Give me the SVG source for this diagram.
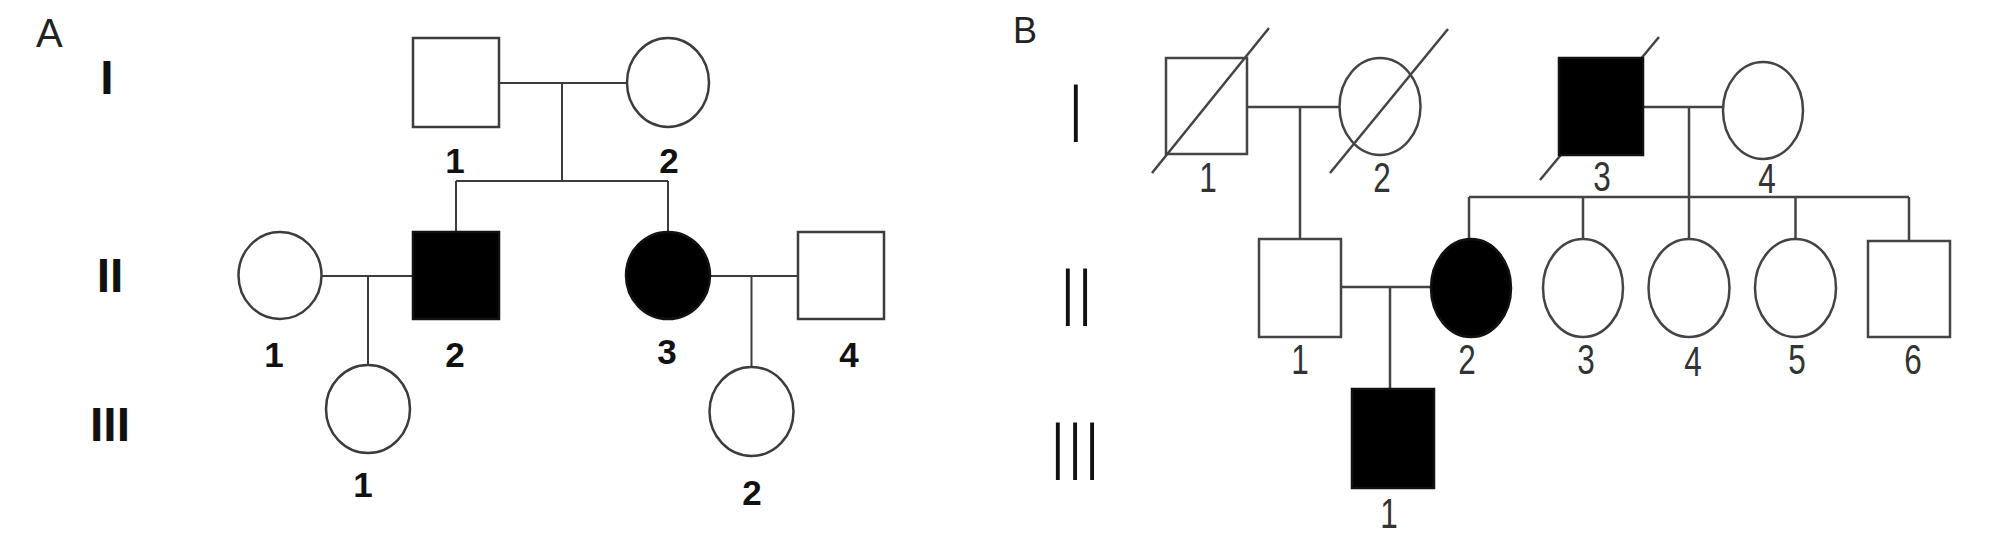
<svg xmlns="http://www.w3.org/2000/svg" width="2008" height="555" viewBox="0 0 2008 555">
<style>
.ln{stroke:#3c3c3c;stroke-width:2;fill:none}
.lnB{stroke:#444;stroke-width:2.5;fill:none}
.sh{stroke:#3c3c3c;stroke-width:2.5;fill:#fff}
.shB{stroke:#444;stroke-width:2.5;fill:#fff}
.aff{fill:#000;stroke:#111;stroke-width:2.5}
.numA{font-family:"Liberation Sans",Arial,sans-serif;font-weight:bold;font-size:35px;fill:#111;text-anchor:middle}
.genA{font-family:"Liberation Sans",Arial,sans-serif;font-weight:bold;font-size:48px;fill:#111;text-anchor:middle}
.numB{font-family:"Liberation Sans",Arial,sans-serif;font-size:42px;fill:#333;text-anchor:middle}
.genB{font-family:"Liberation Sans",Arial,sans-serif;font-size:84px;fill:#111;letter-spacing:11px}
.pan{font-family:"Liberation Sans",Arial,sans-serif;font-size:40px;fill:#222}
</style>
<rect width="2008" height="555" fill="#fff"/>

<!-- Panel A -->
<text class="pan" x="36" y="47">A</text>
<text class="genA" x="107" y="94">I</text>
<text class="genA" x="110" y="292">II</text>
<text class="genA" x="110" y="441">III</text>

<g id="connectorsA">
<line class="ln" x1="499" y1="83" x2="627" y2="83"/>
<line class="ln" x1="562" y1="83" x2="562" y2="181"/>
<line class="ln" x1="456" y1="181" x2="668" y2="181"/>
<line class="ln" x1="456" y1="181" x2="456" y2="232"/>
<line class="ln" x1="668" y1="181" x2="668" y2="232"/>
<line class="ln" x1="321" y1="276" x2="413" y2="276"/>
<line class="ln" x1="368" y1="276" x2="368" y2="365"/>
<line class="ln" x1="710" y1="276" x2="798" y2="276"/>
<line class="ln" x1="751.5" y1="276" x2="751.5" y2="367"/>
</g>

<g id="A-I-1"><rect class="sh" x="413" y="38" width="86" height="89"/><text class="numA" x="455" y="173">1</text></g>
<g id="A-I-2"><ellipse class="sh" cx="668" cy="82.5" rx="41" ry="44.5"/><text class="numA" x="669" y="173">2</text></g>
<g id="A-II-1"><ellipse class="sh" cx="280" cy="275.5" rx="41.5" ry="43.5"/><text class="numA" x="274" y="367">1</text></g>
<g id="A-II-2"><rect class="aff" x="413" y="232" width="86" height="87"/><text class="numA" x="455" y="367">2</text></g>
<g id="A-II-3"><ellipse class="aff" cx="668" cy="275.5" rx="42" ry="43.5"/><text class="numA" x="667" y="364">3</text></g>
<g id="A-II-4"><rect class="sh" x="798" y="232" width="86" height="87"/><text class="numA" x="849" y="367">4</text></g>
<g id="A-III-1"><ellipse class="sh" cx="368" cy="409" rx="42" ry="44"/><text class="numA" x="363" y="497">1</text></g>
<g id="A-III-2"><ellipse class="sh" cx="751.5" cy="411.5" rx="42" ry="44.5"/><text class="numA" x="752" y="505">2</text></g>

<!-- Panel B -->
<text class="pan" x="1013" y="43" style="font-size:36px">B</text>
<text class="genB" transform="translate(1070,142) scale(0.5,1)">I</text>
<text class="genB" transform="translate(1062,326) scale(0.5,1)">II</text>
<text class="genB" transform="translate(1052,480) scale(0.5,1)">III</text>

<g id="connectorsB">
<line class="lnB" x1="1247" y1="107" x2="1340" y2="107"/>
<line class="lnB" x1="1300" y1="107" x2="1300" y2="239"/>
<line class="lnB" x1="1643" y1="107" x2="1723" y2="107"/>
<line class="lnB" x1="1689" y1="107" x2="1689" y2="239"/>
<line class="lnB" x1="1469" y1="197" x2="1909" y2="197"/>
<line class="lnB" x1="1469" y1="197" x2="1469" y2="239"/>
<line class="lnB" x1="1583" y1="197" x2="1583" y2="239"/>
<line class="lnB" x1="1795.5" y1="197" x2="1795.5" y2="239"/>
<line class="lnB" x1="1909" y1="197" x2="1909" y2="241"/>
<line class="lnB" x1="1341" y1="287" x2="1431" y2="287"/>
<line class="lnB" x1="1390" y1="287" x2="1390" y2="389"/>
</g>

<g id="B-I-1"><rect class="shB" x="1166" y="58" width="81" height="96"/><line class="lnB" x1="1152" y1="173" x2="1269" y2="28"/><text class="numB" transform="translate(1208,192) scale(0.75,1)">1</text></g>
<g id="B-I-2"><ellipse class="shB" cx="1380" cy="106.5" rx="40.5" ry="48.5"/><line class="lnB" x1="1330" y1="173" x2="1448" y2="29"/><text class="numB" transform="translate(1382,192) scale(0.75,1)">2</text></g>
<g id="B-I-3"><line class="lnB" x1="1540" y1="180" x2="1659" y2="37"/><rect class="aff" x="1559" y="58" width="84" height="97"/><text class="numB" transform="translate(1602,191) scale(0.75,1)">3</text></g>
<g id="B-I-4"><ellipse class="shB" cx="1763" cy="110.5" rx="40" ry="48.5"/><text class="numB" transform="translate(1767,193) scale(0.75,1)">4</text></g>
<g id="B-II-1"><rect class="shB" x="1259" y="239" width="82" height="98"/><text class="numB" transform="translate(1300,374) scale(0.75,1)">1</text></g>
<g id="B-II-2"><ellipse class="aff" cx="1471" cy="288" rx="40" ry="49"/><text class="numB" transform="translate(1467,374) scale(0.75,1)">2</text></g>
<g id="B-II-3"><ellipse class="shB" cx="1583" cy="288" rx="40" ry="49"/><text class="numB" transform="translate(1586,374) scale(0.75,1)">3</text></g>
<g id="B-II-4"><ellipse class="shB" cx="1689" cy="288" rx="40.5" ry="49"/><text class="numB" transform="translate(1693,376) scale(0.75,1)">4</text></g>
<g id="B-II-5"><ellipse class="shB" cx="1795.5" cy="288" rx="40.5" ry="49"/><text class="numB" transform="translate(1797,374) scale(0.75,1)">5</text></g>
<g id="B-II-6"><rect class="shB" x="1868" y="241" width="82" height="96"/><text class="numB" transform="translate(1913,374) scale(0.75,1)">6</text></g>
<g id="B-III-1"><rect class="aff" x="1352" y="389" width="82" height="99"/><text class="numB" transform="translate(1389,528) scale(0.75,1)">1</text></g>
</svg>
